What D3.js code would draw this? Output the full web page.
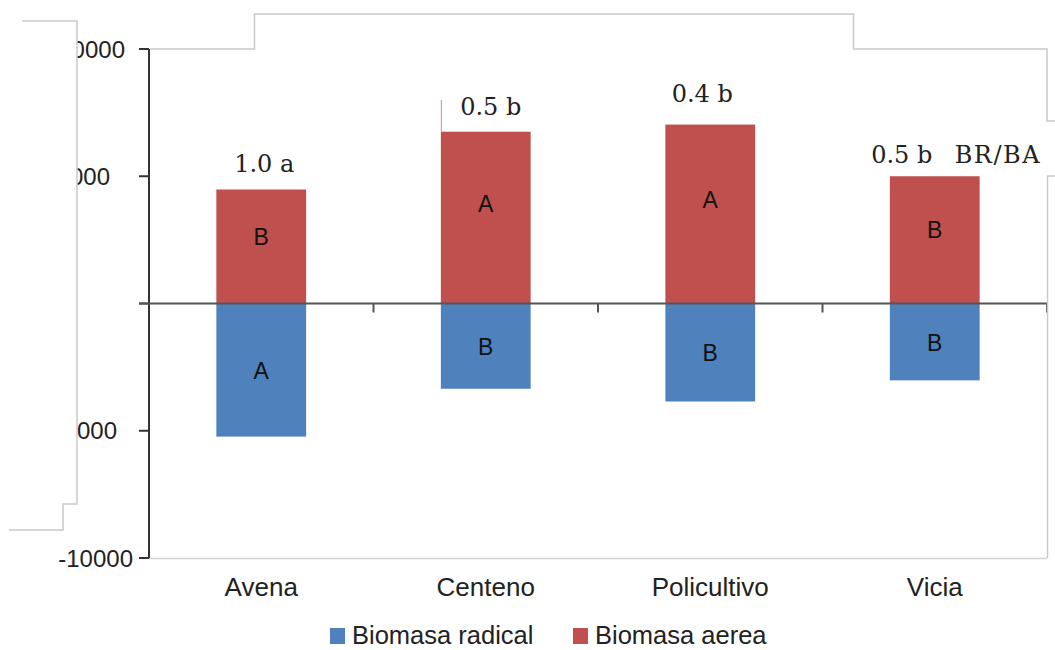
<!DOCTYPE html>
<html><head><meta charset="utf-8">
<script src="https://cdn.jsdelivr.net/npm/d3@7"></script>
<style>body{margin:0;background:#fff}svg{display:block}</style>
</head><body><svg id="c" width="1055" height="650"></svg>
<script>
const categories = ["Avena","Centeno","Policultivo","Vicia"];
const aerea = [4480, 6750, 7030, 5000];
const radical = [-5230, -3350, -3850, -3020];
const ratioLabels = ["1.0 a","0.5 b","0.4 b","0.5 b"];
const aereaLetters = ["B","A","A","B"];
const radicalLetters = ["A","B","B","B"];
const yTicks = [10000, 5000, 0, -5000, -10000];
const yTickLabels = ["10000","5000","","-5000","-10000"];
const seriesNames = ["Biomasa radical","Biomasa aerea"];
const colors = ["#4F81BD","#C0504D"];

const svg = d3.select("#c");
const sans = "'Liberation Sans', Arial, sans-serif";
const serif = "'DejaVu Serif', serif";
const x = d3.scaleBand().domain(categories).range([149,1047]).paddingInner(0.6).paddingOuter(0.3);
const y = d3.scaleLinear().domain([-10000,10000]).range([558,49]);
const step = x.step();

// plot border bottom line (light)
svg.append("line").attr("x1",149).attr("x2",1047).attr("y1",558.5).attr("y2",558.5).attr("stroke","#d0d0d0").attr("stroke-width",1.5);

// bars
categories.forEach((c,i)=>{
  svg.append("rect").attr("x",x(c)).attr("width",x.bandwidth())
    .attr("y",y(aerea[i])).attr("height",y(0)-y(aerea[i])).attr("fill",colors[1]);
  svg.append("rect").attr("x",x(c)).attr("width",x.bandwidth())
    .attr("y",y(0)).attr("height",y(radical[i])-y(0)).attr("fill",colors[0]);
  svg.append("text").attr("x",x(c)+x.bandwidth()/2).attr("y",y(aerea[i]*0.58))
    .attr("text-anchor","middle").attr("dominant-baseline","central")
    .attr("font-family",sans).attr("font-size",23).attr("fill","#111").text(aereaLetters[i]);
  svg.append("text").attr("x",x(c)+x.bandwidth()/2).attr("y",y(radical[i]*0.51))
    .attr("text-anchor","middle").attr("dominant-baseline","central")
    .attr("font-family",sans).attr("font-size",23).attr("fill","#111").text(radicalLetters[i]);
});

// thin red artifact line at Centeno left edge
svg.append("line").attr("x1",x("Centeno")+0.5).attr("x2",x("Centeno")+0.5)
  .attr("y1",100).attr("y2",y(aerea[1])).attr("stroke","#d88a88").attr("stroke-width",1);

// ratio labels
const lblDx = [3,5,-8,-33], lblDy = [-17,-17,-23,-13];
categories.forEach((c,i)=>{
  svg.append("text").attr("x",x(c)+x.bandwidth()/2+lblDx[i]).attr("y",y(aerea[i])+lblDy[i])
    .attr("text-anchor","middle").attr("font-family",serif).attr("font-size",24)
    .attr("fill","#222").text(ratioLabels[i]);
});
svg.append("text").attr("x",1041).attr("y",y(aerea[3])-13).attr("text-anchor","end")
  .attr("font-family",serif).attr("font-size",24).attr("letter-spacing",1.5)
  .attr("fill","#222").text("BR/BA");

// y axis
const axG = svg.append("g");
axG.append("line").attr("x1",149).attr("x2",149).attr("y1",y(10000)).attr("y2",y(-10000)).attr("stroke","#333").attr("stroke-width",2);
const labelRight = [125,110,0,117,133];
yTicks.forEach((t,i)=>{
  axG.append("line").attr("x1",139).attr("x2",149).attr("y1",y(t)).attr("y2",y(t)).attr("stroke","#333").attr("stroke-width",2);
  axG.append("text").attr("x",labelRight[i]).attr("y",y(t)).attr("dominant-baseline","central")
    .attr("text-anchor","end").attr("font-family",sans).attr("font-size",24).attr("fill","#222").text(yTickLabels[i]);
});
// x axis at zero
axG.append("line").attr("x1",139).attr("x2",1047).attr("y1",y(0)).attr("y2",y(0)).attr("stroke","#555").attr("stroke-width",2);
categories.forEach((c,i)=>{
  const bx = x.range()[0] + step*(i+1);
  axG.append("line").attr("x1",bx).attr("x2",bx).attr("y1",y(0)).attr("y2",y(0)+9).attr("stroke","#555").attr("stroke-width",2);
  svg.append("text").attr("x",x(c)+x.bandwidth()/2).attr("y",596).attr("text-anchor","middle")
    .attr("font-family",sans).attr("font-size",26).attr("fill","#222").text(c);
});

// white overlay boxes (cropping artifacts)
svg.append("path").attr("d","M0,21 H77 V504 H63 V530 H0 Z").attr("fill","#fff");
const gray = "#c9c9c9";
svg.append("path").attr("d","M22,21 H77 V504 H63 V530 H9").attr("fill","none").attr("stroke",gray).attr("stroke-width",1.5);
svg.append("path").attr("d","M150,49 H254.5 V14 H853.5 V49 H1047 V121 H1055").attr("fill","none").attr("stroke",gray).attr("stroke-width",1.5);
svg.append("path").attr("d","M1055,176 H1047.5 V558").attr("fill","none").attr("stroke",gray).attr("stroke-width",1.5);

// legend
const legX = [330, 573];
seriesNames.forEach((s,i)=>{
  svg.append("rect").attr("x",legX[i]).attr("y",628).attr("width",15).attr("height",16).attr("fill",colors[i]);
  svg.append("text").attr("x",legX[i]+22).attr("y",644).attr("font-family",sans).attr("font-size",25.5)
    .attr("fill","#222").text(s);
});
</script></body></html>
